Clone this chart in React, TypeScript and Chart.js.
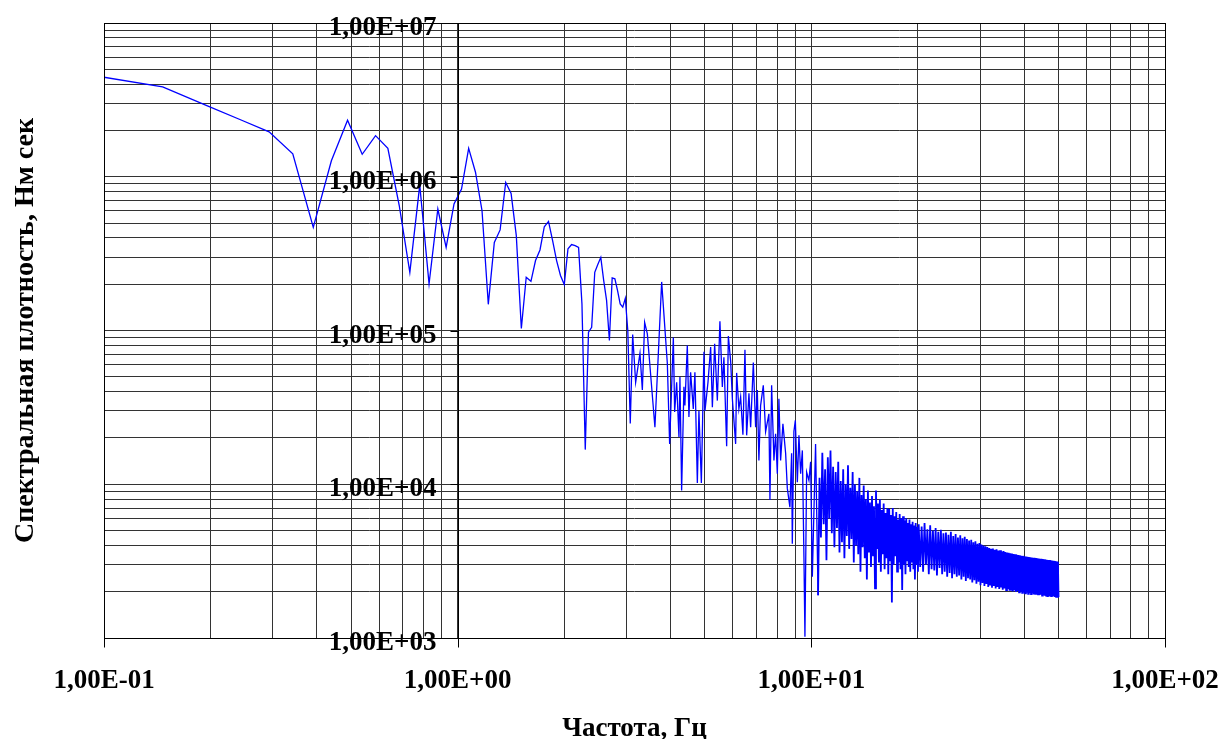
import React, { useEffect, useRef } from 'react';
import { Chart, registerables } from 'chart.js';

Chart.register(...registerables);

// ---------- data ----------
// FFT bin width of the spectrum (Hz)
const BIN_HZ = 100 / 2048;

// low-frequency part: one value per bin, bins 2..64
const LOW_START_BIN = 2;
const LOW_PSD = [
  4.48e6, 3.84e6, 2.9e6, 2.34e6, 1.96e6, 1.41e6, 4.69e5, 1.27e6, 2.33e6, 1.4e6,
  1.85e6, 1.53e6, 6.5e5, 2.39e5, 8.83e5, 2.01e5, 6.17e5, 3.47e5, 6.65e5, 8.32e5,
  1.53e6, 1.07e6, 6.01e5, 1.48e5, 3.74e5, 4.51e5, 9.18e5, 7.8e5, 4.14e5, 1.03e5,
  2.22e5, 2.09e5, 2.85e5, 3.34e5, 4.73e5, 5.12e5, 3.84e5, 2.85e5, 2.28e5, 1.99e5,
  3.4e5, 3.62e5, 3.56e5, 3.47e5, 1.49e5, 1.68e4, 9.75e4, 1.05e5, 2.39e5, 2.69e5,
  2.99e5, 2.11e5, 1.57e5, 8.6e4, 2.2e5, 2.17e5, 1.82e5, 1.49e5, 1.42e5, 1.62e5,
  1.0e5, 2.48e4, 9.4e4,
];

// middle part: read peak by peak
const MID_FREQ = [
  3.186, 3.277, 3.328, 3.378, 3.438, 3.612, 3.774, 3.916, 3.975, 4.072,
  4.107, 4.161, 4.224, 4.251, 4.298, 4.363, 4.391, 4.46, 4.507, 4.557,
  4.637, 4.686, 4.761, 4.81, 4.887, 4.971, 5.003, 5.102, 5.192, 5.25,
  5.329, 5.423, 5.515, 5.602, 5.66, 5.762, 5.826, 5.914, 5.98, 6.109,
  6.149, 6.24, 6.311, 6.406, 6.491, 6.563, 6.662, 6.736, 6.855, 6.958,
  7.035, 7.108, 7.187, 7.314, 7.425, 7.586, 7.638, 7.722, 7.839, 7.925,
  8.014, 8.097, 8.187, 8.311, 8.459, 8.553, 8.698, 8.795, 8.835, 8.927,
  9.011, 9.129, 9.225, 9.327, 9.432, 9.53, 9.592, 9.698, 9.845, 9.954,
  10.065, 10.28,
];
const MID_PSD = [
  4.6e4, 7.1e4, 4.1e4, 1.13e5, 9.5e4, 2.35e4, 2.07e5, 6.1e4, 1.83e4, 9.0e4,
  2.95e4, 4.6e4, 2.03e4, 4.98e4, 9.1e3, 4.3e4, 3.25e4, 8.0e4, 2.74e4, 5.35e4,
  3.09e4, 5.35e4, 1.02e4, 3.0e4, 1.02e4, 7.27e4, 3.0e4, 4.6e4, 7.8e4, 3.17e4,
  8.2e4, 3.5e4, 1.15e5, 4.3e4, 6.7e4, 1.77e4, 9.2e4, 6.3e4, 3.6e4, 1.83e4,
  5.3e4, 3.09e4, 3.7e4, 2.1e4, 7.5e4, 2.08e4, 3.9e4, 2.35e4, 6.2e4, 2.35e4,
  4.1e4, 1.43e4, 3.25e4, 4.4e4, 2.2e4, 2.87e4, 7.9e3, 4.4e4, 1.43e4, 2.13e4,
  1.17e4, 3.6e4, 1.43e4, 2.47e4, 1.59e4, 9.4e3, 7.1e3, 1.59e4, 4.1e3, 2.2e4,
  2.6e4, 1.03e4, 2.08e4, 1.17e4, 1.66e4, 3.37e3, 1.02e3, 1.2e4, 1.06e4, 1.4e4,
  2.5e3, 1.83e4,
];

// 10..20 Hz: every 2nd bin
const TAIL_A_START_BIN = 214;
const TAIL_A_STEP = 2;
const TAIL_A_PSD = [
  1.9e3, 1.1e4, 4.5e3, 1.6e4, 5.5e3, 1.25e4, 3.2e3, 1.5e4, 6.0e3, 1.66e4,
  4.8e3, 1.3e4, 3.9e3, 1.2e4, 5.2e3, 1.4e4, 3.6e3, 1.05e4, 4.2e3, 1.25e4,
  3.3e3, 1.0e4, 4.6e3, 1.33e4, 3.8e3, 9.5e3, 4.4e3, 1.2e4, 3.1e3, 1.0e4,
  4.0e3, 9.0e3, 3.5e3, 1.1e4, 2.7e3, 8.5e3, 3.9e3, 9.8e3, 3.3e3, 8.0e3,
  2.4e3, 9.1e3, 3.6e3, 7.6e3, 2.9e3, 8.4e3, 3.4e3, 7.2e3, 2.1e3, 9.1e3,
  3.8e3, 7.5e3, 3.1e3, 8.0e3, 2.7e3, 6.8e3, 3.5e3, 7.5e3, 2.8e3, 6.5e3,
  3.3e3, 7.0e3, 2.6e3, 6.9e3, 3.2e3, 6.3e3, 1.7e3, 7.0e3, 3.0e3, 6.2e3,
  3.4e3, 6.6e3, 2.7e3, 5.9e3, 3.1e3, 6.4e3, 2.8e3, 6.0e3, 2.05e3, 6.2e3,
  3.0e3, 5.8e3, 2.6e3, 6.0e3, 3.2e3, 5.6e3, 2.9e3, 5.9e3, 2.7e3, 5.5e3,
  3.1e3, 5.7e3, 2.8e3, 5.4e3, 2.4e3, 5.6e3, 3.0e3, 5.3e3, 2.7e3,
];

// 20..50 Hz: every 4th bin
const TAIL_B_START_BIN = 412;
const TAIL_B_STEP = 4;
const TAIL_B_PSD = [
  5500, 2900, 5300, 2700, 5600, 3000, 5100, 2600, 5400, 2800,
  5000, 2750, 5200, 2550, 4900, 2850, 5050, 2600, 4800, 2700,
  4850, 2500, 4700, 2650, 4900, 2450, 4600, 2600, 4750, 2500,
  4500, 2550, 4650, 2400, 4450, 2500, 4550, 2350, 4400, 2450,
  4300, 2400, 4350, 2300, 4200, 2380, 4250, 2250, 4100, 2320,
  4150, 2200, 4050, 2280, 4000, 2180, 3950, 2250, 3900, 2150,
  3850, 2200, 3800, 2120, 3820, 2180, 3750, 2100, 3780, 2150,
  3700, 2080, 3720, 2130, 3650, 2060, 3680, 2100, 3620, 2050,
  3600, 2080, 3580, 2030, 3560, 2060, 3540, 2010, 3520, 2040,
  3500, 1990, 3480, 2020, 3460, 1980, 3450, 2000, 3430, 1970,
  3420, 1980, 3400, 1950, 3390, 1970, 3370, 1940, 3360, 1960,
  3350, 1930, 3340, 1950, 3330, 1920, 3320, 1940, 3310, 1910,
  3300, 1920, 3290, 1900, 3280, 1910, 3270, 1890, 3260, 1900,
  3250, 1880, 3240, 1890, 3230, 1870, 3220, 1880, 3210, 1860,
  3200, 1870, 3190, 1860, 3180, 1860, 3170, 1850, 3160, 1855,
  3150, 1850, 3130, 1850,
];

// axes
const X_MIN = 0.1;
const X_MAX = 100;
const Y_MIN = 1e3;
const Y_MAX = 1e7;
const X_TICK_VALUES = [0.1, 1, 10, 100];
const X_TICK_LABELS = ['1,00E-01', '1,00E+00', '1,00E+01', '1,00E+02'];
const Y_TICK_VALUES = [1e3, 1e4, 1e5, 1e6, 1e7];
const Y_TICK_LABELS = ['1,00E+03', '1,00E+04', '1,00E+05', '1,00E+06', '1,00E+07'];
const Y_AXIS_CROSSES_AT = 1;
const X_TITLE = 'Частота, Гц';
const Y_TITLE = 'Спектральная плотность, Нм сек';

function decadeGrid(min: number, max: number): number[] {
  const out: number[] = [];
  for (let e = Math.round(Math.log10(min)); e < Math.round(Math.log10(max)); e++) {
    for (let m = 1; m <= 9; m++) out.push(Number((m * Math.pow(10, e)).toPrecision(6)));
  }
  out.push(max);
  return out;
}

function buildPoints() {
  const pts: { x: number; y: number }[] = [];
  LOW_PSD.forEach((v, i) => pts.push({ x: (LOW_START_BIN + i) * BIN_HZ, y: v }));
  MID_FREQ.forEach((f, i) => pts.push({ x: f, y: MID_PSD[i] }));
  TAIL_A_PSD.forEach((v, i) => pts.push({ x: (TAIL_A_START_BIN + i * TAIL_A_STEP) * BIN_HZ, y: v }));
  TAIL_B_PSD.forEach((v, i) => pts.push({ x: (TAIL_B_START_BIN + i * TAIL_B_STEP) * BIN_HZ, y: v }));
  return pts;
}

const FONT = '"Liberation Serif", "Times New Roman", serif';

const overlayPlugin = {
  id: 'overlay',
  afterDraw(chart: any) {
    const { ctx, chartArea, scales } = chart;
    const xs = scales.x;
    const ys = scales.y;
    ctx.save();
    ctx.strokeStyle = '#000';
    ctx.fillStyle = '#000';
    ctx.lineWidth = 1;

    // plot border
    ctx.strokeRect(
      Math.round(chartArea.left) + 0.5,
      Math.round(chartArea.top) + 0.5,
      Math.round(chartArea.right - chartArea.left),
      Math.round(chartArea.bottom - chartArea.top)
    );

    // y axis line at x = 1
    const ax = Math.round(xs.getPixelForValue(Y_AXIS_CROSSES_AT)) + 0.5;
    ctx.beginPath();
    ctx.moveTo(ax, chartArea.top);
    ctx.lineTo(ax, chartArea.bottom);
    ctx.stroke();

    // y ticks and labels
    ctx.font = 'bold 27px ' + FONT;
    ctx.textAlign = 'right';
    ctx.textBaseline = 'alphabetic';
    Y_TICK_VALUES.forEach((v, i) => {
      const y = ys.getPixelForValue(v);
      const yy = Math.round(y) + 0.5;
      ctx.beginPath();
      ctx.moveTo(ax - 8, yy);
      ctx.lineTo(ax, yy);
      ctx.stroke();
      ctx.fillText(Y_TICK_LABELS[i], ax - 22, y + 12);
    });

    // x ticks and labels
    ctx.textAlign = 'center';
    const by = Math.round(chartArea.bottom) + 0.5;
    X_TICK_VALUES.forEach((v, i) => {
      const x = xs.getPixelForValue(v);
      const xx = Math.round(x) + 0.5;
      ctx.beginPath();
      ctx.moveTo(xx, by);
      ctx.lineTo(xx, by + 9);
      ctx.stroke();
      ctx.fillText(X_TICK_LABELS[i], x, chartArea.bottom + 50);
    });

    // axis titles
    ctx.font = 'bold 27px ' + FONT;
    ctx.textAlign = 'center';
    ctx.fillText(X_TITLE, (chartArea.left + chartArea.right) / 2, chartArea.bottom + 98);

    ctx.save();
    ctx.translate(33, (chartArea.top + chartArea.bottom) / 2);
    ctx.rotate(-Math.PI / 2);
    ctx.textAlign = 'center';
    ctx.textBaseline = 'alphabetic';
    ctx.font = 'bold 28px ' + FONT;
    ctx.fillText(Y_TITLE, 0, 0);
    ctx.restore();

    ctx.restore();
  },
};

export default function App() {
  const ref = useRef<HTMLCanvasElement | null>(null);

  useEffect(() => {
    if (!ref.current) return;
    const xGrid = decadeGrid(X_MIN, X_MAX);
    const yGrid = decadeGrid(Y_MIN, Y_MAX);
    const chart = new Chart(ref.current, {
      type: 'line',
      data: {
        datasets: [
          {
            data: buildPoints(),
            borderColor: '#0000ff',
            borderWidth: 1.3,
            pointRadius: 0,
            tension: 0,
            fill: false,
            segment: {
              borderWidth: (c: any) => (c.p0.parsed.x > 10.3 ? 1.8 : 1.3),
            },
          },
        ],
      },
      options: {
        animation: false,
        responsive: false,
        maintainAspectRatio: false,
        layout: { padding: { left: 104, top: 23, right: 56, bottom: 101 } },
        plugins: { legend: { display: false }, tooltip: { enabled: false } },
        scales: {
          x: {
            type: 'logarithmic',
            min: X_MIN,
            max: X_MAX,
            ticks: { display: false },
            grid: { color: '#333333', lineWidth: 1, drawTicks: false },
            border: { display: false },
            afterBuildTicks: (s: any) => {
              s.ticks = xGrid.map((v) => ({ value: v }));
            },
          },
          y: {
            type: 'logarithmic',
            min: Y_MIN,
            max: Y_MAX,
            ticks: { display: false },
            grid: { color: '#333333', lineWidth: 1, drawTicks: false },
            border: { display: false },
            afterBuildTicks: (s: any) => {
              s.ticks = yGrid.map((v) => ({ value: v }));
            },
          },
        },
      },
      plugins: [overlayPlugin],
    } as any);
    return () => chart.destroy();
  }, []);

  return (
    <div style={{ position: 'fixed', left: 0, top: 0, width: 1221, height: 739, background: '#fff' }}>
      <canvas ref={ref} width={1221} height={739} style={{ display: 'block' }} />
    </div>
  );
}
